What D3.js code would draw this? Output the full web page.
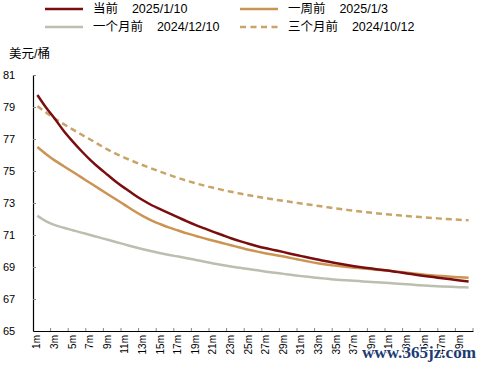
<!DOCTYPE html>
<html>
<head>
<meta charset="utf-8">
<script src="https://cdn.jsdelivr.net/npm/d3@7"></script>
<style>
  body { margin: 0; background: #fff; }
  text { font-family: "Liberation Sans", Arial, "Noto Sans CJK SC", sans-serif; }
</style>
</head>
<body>
<div id="chart"></div>
<script>
// months 1m..50m
let months = d3.range(1, 51).map(function (d) { return d + "m"; });

let current = [79.75, 78.95, 78.25, 77.5, 76.85, 76.25, 75.7, 75.2, 74.75, 74.3,
    73.9, 73.52, 73.17, 72.86, 72.6, 72.35, 72.1, 71.85, 71.62, 71.41,
    71.2, 71.0, 70.8, 70.62, 70.45, 70.3, 70.17, 70.05, 69.93, 69.8,
    69.68, 69.56, 69.45, 69.34, 69.24, 69.14, 69.05, 68.97, 68.9, 68.83,
    68.76, 68.68, 68.6, 68.52, 68.44, 68.37, 68.3, 68.23, 68.16, 68.1];

let weekAgo = [76.5, 76.05, 75.65, 75.3, 74.95, 74.6, 74.25, 73.9, 73.55, 73.2,
    72.85, 72.5, 72.18, 71.9, 71.67, 71.46, 71.28, 71.1, 70.94, 70.79,
    70.64, 70.5, 70.36, 70.22, 70.08, 69.96, 69.85, 69.75, 69.65, 69.54,
    69.43, 69.32, 69.22, 69.14, 69.07, 69.01, 68.96, 68.91, 68.86, 68.81,
    68.76, 68.7, 68.64, 68.58, 68.52, 68.47, 68.43, 68.39, 68.36, 68.33];

let monthAgo = [72.2, 71.85, 71.62, 71.45, 71.3, 71.15, 71.0, 70.85, 70.7, 70.55,
    70.4, 70.25, 70.11, 69.98, 69.86, 69.75, 69.65, 69.55, 69.44, 69.33,
    69.22, 69.12, 69.03, 68.95, 68.87, 68.79, 68.71, 68.64, 68.57, 68.5,
    68.43, 68.37, 68.31, 68.26, 68.21, 68.17, 68.14, 68.1, 68.07, 68.03,
    68.0, 67.96, 67.92, 67.88, 67.84, 67.81, 67.78, 67.76, 67.74, 67.72];

let threeMonthsAgo = [79.05, 78.65, 78.27, 77.93, 77.6, 77.28, 76.97, 76.65, 76.34, 76.06,
    75.81, 75.58, 75.36, 75.15, 74.95, 74.75, 74.56, 74.39, 74.23, 74.08,
    73.95, 73.82, 73.7, 73.59, 73.49, 73.39, 73.3, 73.21, 73.13, 73.05,
    72.97, 72.89, 72.81, 72.73, 72.65, 72.58, 72.51, 72.45, 72.39, 72.33,
    72.28, 72.23, 72.18, 72.14, 72.1, 72.06, 72.02, 71.98, 71.95, 71.92];

let yTicks = [65, 67, 69, 71, 73, 75, 77, 79, 81];

let seriesNames = ["当前", "一周前", "一个月前", "三个月前"];
let seriesDates = ["2025/1/10", "2025/1/3", "2024/12/10", "2024/10/12"];

let width = 484,
    height = 370,
    plotLeft = 33,
    plotRight = 473,
    plotTop = 75,
    plotBottom = 331;

let svg = d3.select("#chart")
    .append("svg")
    .attr("width", width)
    .attr("height", height);

let x = d3.scaleBand()
    .domain(months)
    .range([plotLeft, plotRight]);

let y = d3.scaleLinear()
    .domain([65, 81])
    .range([plotBottom, plotTop]);

let series = [
    { name: seriesNames[0], date: seriesDates[0], values: current, color: "#7a0d0f", dash: null },
    { name: seriesNames[1], date: seriesDates[1], values: weekAgo, color: "#cc9452", dash: null },
    { name: seriesNames[2], date: seriesDates[2], values: monthAgo, color: "#bdbdb0", dash: null },
    { name: seriesNames[3], date: seriesDates[3], values: threeMonthsAgo, color: "#c9a468", dash: "6,4" }
];

// y axis
let yAxis = svg.append("g")
    .attr("transform", "translate(" + plotLeft + ",0)")
    .call(d3.axisRight(y).tickValues(yTicks).tickSize(3).tickSizeOuter(0).tickFormat(""));
yAxis.select(".domain").attr("stroke", "#000").attr("stroke-width", 1.2);
yAxis.selectAll(".tick line").attr("stroke", "#888");

svg.append("g")
    .selectAll("text")
    .data(yTicks)
    .enter()
    .append("text")
    .attr("x", 3)
    .attr("y", function (d) { return y(d); })
    .attr("dy", "0.35em")
    .text(function (d) { return d; })
    .style("font-size", "11px")
    .style("fill", "#000");

// x axis, ticks every 2 months
let xTickVals = months.filter(function (d, i) { return i % 2 === 0; });
let xAxis = svg.append("g")
    .attr("transform", "translate(0," + plotBottom + ")")
    .call(d3.axisTop(x).tickValues([]).tickSizeOuter(0));
xAxis.select(".domain").attr("stroke", "#000").attr("stroke-width", 1.2);

svg.append("g")
    .selectAll("line")
    .data(xTickVals.slice(1))
    .enter()
    .append("line")
    .attr("x1", function (d) { return x(d); })
    .attr("x2", function (d) { return x(d); })
    .attr("y1", plotBottom)
    .attr("y2", plotBottom - 3)
    .attr("stroke", "#888");
svg.append("line")
    .attr("x1", plotRight).attr("x2", plotRight)
    .attr("y1", plotBottom).attr("y2", plotBottom - 3)
    .attr("stroke", "#888");

svg.append("g")
    .selectAll("text")
    .data(xTickVals)
    .enter()
    .append("text")
    .attr("transform", function (d) {
        return "translate(" + (x(d) + x.bandwidth() / 2 + 3) + "," + (plotBottom + 4) + ") rotate(-90)";
    })
    .style("text-anchor", "end")
    .style("font-size", "10px")
    .style("fill", "#000")
    .text(function (d) { return d; });

// lines
let line = d3.line()
    .curve(d3.curveMonotoneX)
    .x(function (d, i) { return x(months[i]) + x.bandwidth() / 2; })
    .y(function (d) { return y(d); });

svg.selectAll(".series")
    .data(series.slice().reverse())
    .enter()
    .append("path")
    .attr("class", "series")
    .attr("d", function (d) { return line(d.values); })
    .attr("fill", "none")
    .attr("stroke", function (d) { return d.color; })
    .attr("stroke-width", 2.5)
    .attr("stroke-dasharray", function (d) { return d.dash; });

// legend
let legendPos = [[45, 9], [240, 9], [45, 27], [240, 27]];
let legend = svg.selectAll(".legend")
    .data(series)
    .enter()
    .append("g")
    .attr("class", "legend")
    .attr("transform", function (d, i) { return "translate(" + legendPos[i][0] + "," + legendPos[i][1] + ")"; });

legend.append("line")
    .attr("x1", 0).attr("x2", 38)
    .attr("stroke", function (d) { return d.color; })
    .attr("stroke-width", 2.5)
    .attr("stroke-dasharray", function (d) { return d.dash ? "6,4.5" : null; });

legend.append("text")
    .attr("x", 48)
    .attr("dy", "0.35em")
    .style("font-size", "12.5px")
    .style("fill", "#000")
    .text(function (d) { return d.name + "\u00a0\u00a0\u00a0\u00a0" + d.date; });

svg.append("text")
    .attr("x", 9)
    .attr("y", 58)
    .style("font-size", "12.5px")
    .style("fill", "#000")
    .text("美元/桶");

// watermark
svg.append("text")
    .attr("x", 362)
    .attr("y", 358)
    .attr("textLength", 114)
    .attr("lengthAdjust", "spacingAndGlyphs")
    .style("font-family", "'Liberation Serif', 'DejaVu Serif', serif")
    .style("font-size", "17px")
    .style("font-weight", "bold")
    .style("fill", "#1f3b73")
    .style("stroke", "#fff")
    .style("stroke-width", 2)
    .style("paint-order", "stroke")
    .text("www.365jz.com");
</script>
</body>
</html>
